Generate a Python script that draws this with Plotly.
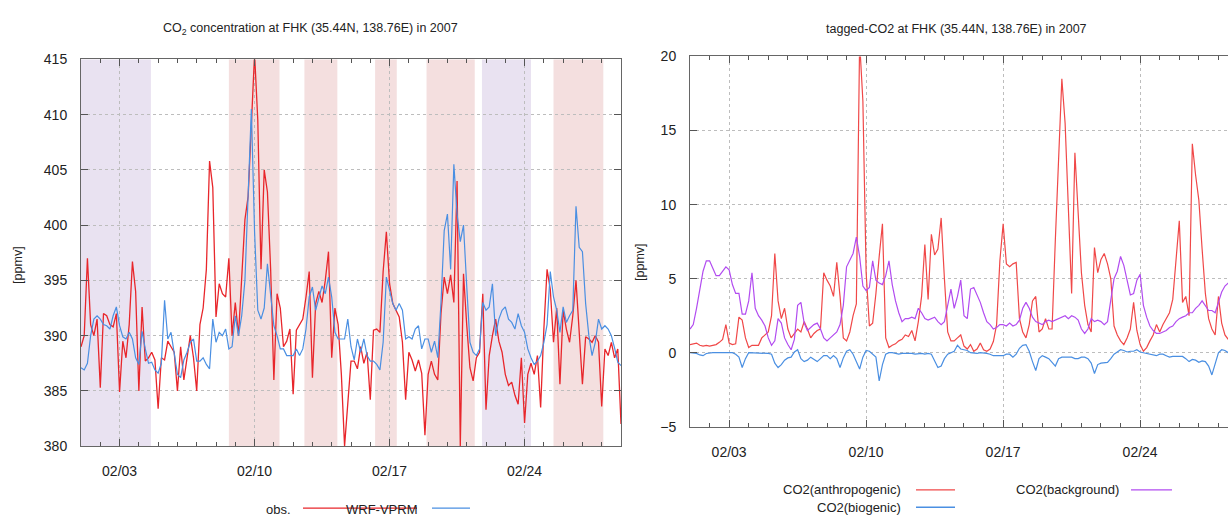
import pandas as pd
import plotly.graph_objects as go

# ---------------- data (4-hourly, starting 2007-02-01 00:00) ----------------
obs = [
389.0,390.0,397.0,391.0,390.0,391.5,
385.3,392.0,391.8,391.0,390.8,392.0,
384.9,389.5,388.0,391.0,396.7,394.0,
385.0,392.6,387.7,388.0,388.5,387.8,
383.4,388.0,387.8,389.5,389.0,388.5,
385.0,389.0,386.0,388.0,390.0,388.0,
385.0,391.0,392.5,396.0,405.8,403.4,
391.7,394.7,393.8,393.5,397.0,390.0,
393.0,390.0,394.7,400.5,402.6,410.0,
415.5,409.5,396.0,405.0,403.0,396.0,
386.0,393.8,392.5,389.0,389.5,390.6,
384.7,390.5,391.0,391.5,393.5,395.8,
386.2,392.9,394.0,393.0,395.0,397.6,
388.0,392.5,391.0,386.5,380.0,384.0,
387.7,387.7,387.0,389.0,387.5,388.5,
384.2,390.5,390.6,390.3,395.8,399.4,
394.7,392.9,392.3,391.7,389.4,384.2,
388.5,387.8,386.8,387.8,386.6,381.0,
386.5,387.7,386.5,386.0,392.0,395.3,
393.8,395.5,393.0,404.0,380.0,395.6,
391.0,387.1,385.9,388.0,388.5,393.8,
383.3,388.2,390.0,391.5,389.5,388.5,
386.5,385.5,385.8,384.6,383.8,388.0,
382.1,386.5,387.5,386.5,388.2,383.5,
390.6,396.0,394.2,389.4,392.5,385.6,
392.3,390.6,389.4,391.8,395.0,390.6,
385.6,389.9,389.7,389.4,390.0,389.4,
383.6,388.8,388.2,389.4,388.0,388.8,
382.0]

wrf_vprm = [
387.1,386.9,387.5,390.0,391.5,391.8,
391.5,391.0,390.9,390.6,391.8,392.6,
390.9,389.9,389.7,390.3,389.7,388.0,
387.4,390.4,388.8,387.5,387.6,386.9,
386.6,387.5,393.2,389.7,390.3,388.2,
386.5,386.2,387.8,388.5,389.4,389.7,
387.7,387.7,388.0,387.4,387.0,391.5,
389.4,390.3,390.0,390.6,388.8,389.0,
391.8,390.0,391.8,395.0,403.0,410.5,
399.4,392.3,391.5,392.5,396.5,393.5,
390.9,390.0,388.8,388.8,388.2,388.2,
388.2,388.8,388.2,388.8,390.6,393.5,
394.4,392.3,393.5,394.5,393.8,395.3,
393.5,390.3,389.7,389.7,389.7,391.5,
389.0,387.8,389.7,388.5,389.7,388.2,
387.7,387.7,387.4,386.9,389.4,395.3,
394.2,392.9,392.3,392.9,392.3,389.7,
389.9,389.7,390.6,390.9,388.8,389.7,
389.7,388.5,389.5,388.0,393.0,399.5,
401.0,396.0,405.5,401.0,398.5,400.0,
394.5,389.4,388.5,388.2,388.8,393.0,
392.3,392.6,394.7,390.0,391.5,392.3,
392.6,391.5,391.2,390.6,392.0,390.9,
390.3,388.8,388.0,387.4,387.7,388.2,
389.4,391.0,395.8,393.5,392.3,390.3,
392.6,391.2,391.8,392.3,401.7,398.0,
397.6,392.9,390.0,388.2,389.4,391.5,
390.6,390.9,390.6,390.0,388.9,387.6,
387.3]

co2_anthro = [
0.55,0.6,0.65,0.5,0.45,0.5,
0.45,0.5,0.55,0.7,0.9,1.9,
0.65,0.55,0.6,2.4,2.2,1.0,
0.35,0.5,0.5,0.5,1.0,1.2,
1.4,2.5,6.7,3.5,2.3,3.0,
1.6,1.0,1.3,1.6,1.4,2.1,
1.6,1.0,1.3,1.5,1.6,5.4,
4.9,4.5,3.8,6.1,3.8,1.0,
0.8,1.4,2.5,3.3,21.0,17.0,
5.4,1.8,2.0,4.0,6.5,8.7,
1.0,0.35,0.5,0.6,0.8,0.9,
1.2,1.1,1.5,0.8,2.1,3.8,
7.3,3.6,8.0,6.6,7.0,9.1,
5.0,1.4,0.8,0.8,1.0,1.2,
0.45,0.25,0.55,0.1,0.25,0.65,
0.2,0.1,0.25,0.75,1.9,6.2,
8.7,6.0,5.8,6.0,6.1,2.3,
1.4,1.0,1.9,3.5,3.8,1.4,
1.6,2.3,1.6,1.6,7.6,13.6,
18.5,15.5,9.8,4.0,13.5,9.0,
5.4,3.2,1.9,1.4,7.1,5.4,
6.3,6.7,6.0,5.0,1.8,1.2,
0.8,0.55,1.0,1.6,3.4,1.5,
0.55,0.1,0.35,0.8,1.2,1.9,
1.4,1.9,2.3,2.7,3.6,6.5,
8.9,3.4,3.8,2.5,14.1,12.0,
10.3,7.0,4.0,2.3,1.6,1.2,
3.8,2.0,1.2,0.9,1.5,1.8,
1.5]

co2_bio = [
0,0,-0.05,-0.15,-0.2,-0.05,
0,0,0,0,0,0,
0,0,-0.1,-0.3,-1.0,-0.4,
0,0,0,0,0,-0.05,
-0.05,-0.1,-0.7,-1.0,-0.8,-0.5,
-0.35,-0.3,0.05,0.2,-0.4,-0.6,
-0.5,-0.3,-0.45,-0.6,-0.4,-0.2,
-0.2,-0.4,-0.2,-0.4,-1.0,-0.35,
0.1,0.2,-0.1,-0.6,-1.1,-0.3,
0.15,0.1,-0.1,-0.3,-1.9,-0.8,
-0.1,0,0,-0.05,-0.1,-0.05,
-0.05,0,-0.05,-0.1,-0.05,-0.05,
-0.1,-0.05,-0.1,-0.5,-1.0,-0.9,
-0.4,-0.1,0,0.1,0.5,0.25,
0.2,0.15,0,-0.05,-0.05,0,
0,-0.05,-0.1,-0.2,-0.2,-0.2,
-0.2,-0.1,-0.1,-0.3,-0.1,0.3,
0.5,0.55,0.1,-0.6,-1.2,-0.4,
-0.2,-0.3,-0.4,-0.65,-0.9,-0.4,
-0.3,-0.3,-0.3,-0.3,-0.4,-0.4,
-0.3,-0.3,-0.4,-0.7,-1.4,-0.8,
-0.7,-0.65,-0.65,-0.4,-0.1,0.05,
0.2,0.15,0.05,0.1,0.1,0.2,
0.05,0,-0.05,-0.1,-0.15,-0.2,
-0.1,-0.1,-0.2,-0.3,-0.25,-0.25,
-0.3,-0.25,-0.4,-0.6,-0.45,-0.5,
-0.65,-0.55,-0.6,-0.9,-1.5,-0.8,
0,0.2,0.15,0.0,-0.2,-0.3,
-0.3]

co2_bg = [
1.6,1.9,3.0,4.3,5.5,6.2,
6.2,5.7,5.2,5.2,5.5,5.8,
5.6,4.6,4.0,4.0,2.6,2.6,
3.5,5.4,3.0,2.5,2.2,1.8,
1.0,0.5,0.8,2.3,2.0,1.0,
0.55,0.2,0.9,3.2,3.4,2.0,
1.5,1.7,1.9,2.0,1.6,1.0,
0.8,1.0,1.2,1.4,1.9,3.2,
5.8,6.3,6.7,7.8,6.5,4.5,
4.2,4.4,6.2,4.9,4.7,4.6,
5.2,6.2,4.6,3.5,2.7,2.1,
2.3,2.3,2.4,2.3,3.0,2.7,
2.3,2.2,2.3,2.4,2.1,1.9,
2.1,3.2,4.3,3.0,3.8,4.9,
2.5,2.3,4.3,4.4,3.9,3.4,
2.7,2.1,1.9,1.6,1.7,1.9,
1.9,1.8,2.0,1.8,1.9,2.2,
3.0,3.4,3.0,2.4,2.1,2.0,
1.9,2.1,2.2,2.1,2.2,2.3,
2.4,2.5,2.3,2.5,2.4,2.2,
1.6,1.3,1.6,2.3,2.1,2.2,
2.1,1.9,2.1,3.6,5.0,5.5,
6.5,5.9,4.8,3.9,4.0,4.9,
5.3,3.2,2.4,1.8,1.5,1.3,
1.3,1.4,1.5,1.7,1.8,2.1,
2.3,2.4,2.5,2.7,2.7,3.0,
3.2,3.5,3.2,2.85,2.85,2.7,
3.4,4.1,4.5,4.7,4.6,4.4,
4.2]

# shaded periods (left panel): start, end, kind
band_start = ["2007-02-01 00:00", "2007-02-08 16:00", "2007-02-12 14:00", "2007-02-16 06:00",
              "2007-02-18 22:00", "2007-02-21 19:00", "2007-02-25 12:00"]
band_end   = ["2007-02-04 15:00", "2007-02-11 07:00", "2007-02-14 07:00", "2007-02-17 09:00",
              "2007-02-21 10:00", "2007-02-24 08:00", "2007-02-28 02:00"]
band_kind  = ["purple", "pink", "pink", "pink", "pink", "purple", "pink"]

tick_format = "%m/%d"

# ---------------- figure ----------------
W, H = 1228, 523
t_left = pd.date_range("2007-02-01", periods=len(obs), freq="4h")
t_right = pd.date_range("2007-02-01", periods=len(co2_anthro), freq="4h")

def px(x):
    return x / W

def py(y):
    return 1 - y / H

FONT = "Liberation Sans, Arial, sans-serif"
RED = "#e8262b"
BLUE = "#4a8fe2"
PURPLE = "#b24cf0"
RED2 = "#f04848"

fig = go.Figure()
fig.add_trace(go.Scatter(x=t_left, y=obs, mode="lines", line=dict(color=RED, width=1.3),
                         xaxis="x", yaxis="y", showlegend=False))
fig.add_trace(go.Scatter(x=t_left, y=wrf_vprm, mode="lines", line=dict(color=BLUE, width=1.2),
                         xaxis="x", yaxis="y", showlegend=False))
fig.add_trace(go.Scatter(x=t_right, y=co2_anthro, mode="lines", line=dict(color=RED2, width=1.2),
                         xaxis="x2", yaxis="y2", showlegend=False))
fig.add_trace(go.Scatter(x=t_right, y=co2_bio, mode="lines", line=dict(color=BLUE, width=1.2),
                         xaxis="x2", yaxis="y2", showlegend=False))
fig.add_trace(go.Scatter(x=t_right, y=co2_bg, mode="lines", line=dict(color=PURPLE, width=1.2),
                         xaxis="x2", yaxis="y2", showlegend=False))

shapes = []
band_colors = {"purple": "rgba(226,216,236,0.75)", "pink": "rgba(240,210,210,0.7)"}
for s, e, k in zip(band_start, band_end, band_kind):
    shapes.append(dict(type="rect", xref="x", yref="y domain", x0=s, x1=e, y0=0, y1=1,
                       fillcolor=band_colors[k], line=dict(width=0), layer="below"))

def seg(x0, x1, y, color):
    return dict(type="line", xref="paper", yref="paper", x0=px(x0), x1=px(x1),
                y0=py(y), y1=py(y), line=dict(color=color, width=1.3))

shapes += [seg(303, 417, 516, RED), seg(432, 470, 516, BLUE),
           seg(916, 955, 497, RED2), seg(1131, 1172, 497, PURPLE), seg(916, 955, 515, BLUE)]

def txt(x, y, s, size=13, anchor="center", angle=0):
    return dict(x=px(x), y=py(y), xref="paper", yref="paper", text=s, showarrow=False,
                xanchor=anchor, yanchor="middle", textangle=angle,
                font=dict(family=FONT, size=size, color="#222"))

annotations = [
    txt(310, 22, "CO<sub>2</sub> concentration at FHK (35.44N, 138.76E) in 2007", 12.5),
    txt(956, 22, "tagged-CO2 at FHK (35.44N, 138.76E) in 2007", 12.5),
    txt(18, 265, "[ppmv]", 12.5, angle=-90),
    txt(640, 262, "[ppmv]", 12.5, angle=-90),
    txt(293, 517, "obs.", 13, "right"),
    txt(420, 517, "WRF-VPRM", 13, "right"),
    txt(903, 497, "CO2(anthropogenic)", 13, "right"),
    txt(1121, 497, "CO2(background)", 13, "right"),
    txt(903, 515, "CO2(biogenic)", 13, "right"),
]

DAY = 86400000
common_x = dict(type="date", tick0="2007-02-03", dtick=7 * DAY, tickformat=tick_format,
                ticks="inside", ticklen=7, tickcolor="#555", showline=True, linecolor="#666",
                linewidth=1, showgrid=True, gridcolor="#bdbdbd", griddash="dot", gridwidth=1,
                minor=dict(dtick=DAY, ticks="inside", ticklen=4, tickcolor="#555", showgrid=False),
                tickfont=dict(family=FONT, size=14, color="#222"), ticklabelstandoff=12,
                zeroline=False)
common_y = dict(dtick=5, ticks="inside", ticklen=7, tickcolor="#555", showline=True,
                linecolor="#666", linewidth=1, showgrid=True, gridcolor="#bdbdbd",
                griddash="dot", gridwidth=1, zeroline=False,
                tickfont=dict(family=FONT, size=14, color="#222"), ticklabelstandoff=10)

fig.update_layout(
    width=W, height=H, margin=dict(l=0, r=0, t=0, b=0),
    paper_bgcolor="white", plot_bgcolor="white", showlegend=False,
    xaxis=dict(common_x, domain=[px(81), px(621)], range=["2007-02-01", "2007-03-01"],
               mirror="ticks", anchor="y"),
    yaxis=dict(common_y, domain=[py(452), py(53)], range=[380, 415], mirror="ticks", anchor="x"),
    xaxis2=dict(common_x, domain=[px(690), 1.0], range=["2007-02-01", "2007-02-28 11:45"],
                mirror="ticks", anchor="y2"),
    yaxis2=dict(common_y, domain=[py(432), py(50)], range=[-5, 20], mirror=False, anchor="x2"),
    shapes=shapes, annotations=annotations,
)

fig.write_html("out.html")
